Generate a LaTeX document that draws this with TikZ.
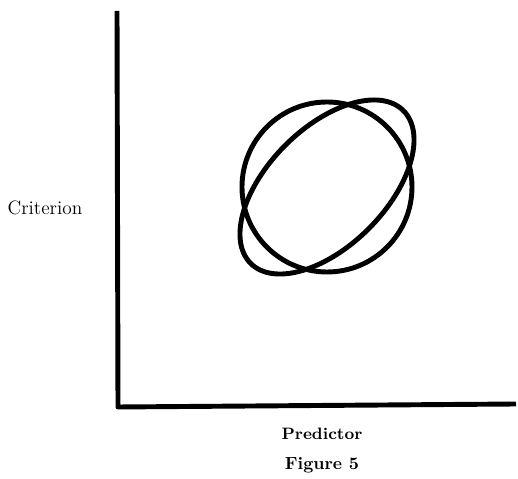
\documentclass[tikz,border=0pt]{standalone}
\usepackage{tikz}
\usetikzlibrary{positioning,calc}

\begin{document}
\begin{tikzpicture}[
    x=0.02cm, y=-0.02cm,
    axis/.style={line width=2.8pt, line join=round},
    curve/.style={line width=2.8pt},
    label/.style={font=\bfseries, inner sep=0pt}
  ]
    \useasboundingbox (0,0) rectangle (518,479);
    \coordinate (origin) at (118,407);
    \coordinate (ytop) at (117,11);
    \coordinate (xend) at (516,404);
    \coordinate (centre) at (327,187);

    \draw[axis] (ytop) -- (origin) -- (xend);
    \draw[curve] (centre) circle (85);
    \draw[curve, rotate around={45:(centre)}] (centre) ellipse (108 and 59);

    \node[inner sep=0pt, font=\fontsize{11}{13}\selectfont] (crit) at (45,208) {Criterion};
    \node[label, font=\bfseries\fontsize{9.4}{11}\selectfont] (pred) at (322,434) {Predictor};
    \node[label] (fig) at (322,465) {Figure 5};
  \end{tikzpicture}
\end{document}
